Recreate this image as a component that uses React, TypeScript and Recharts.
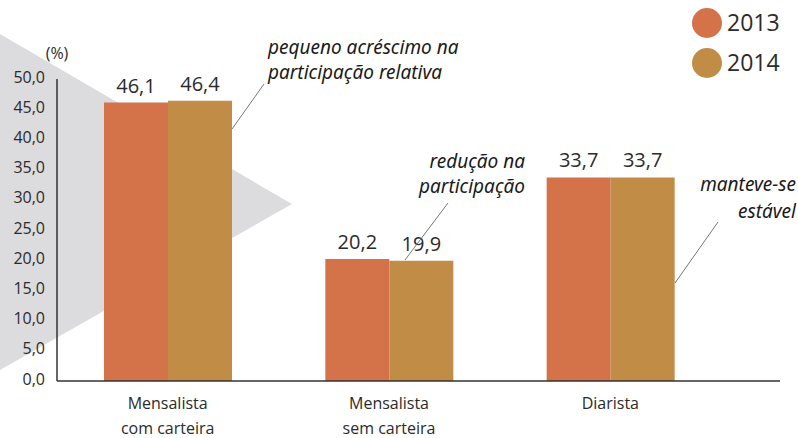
import React from 'react'
import {
  BarChart,
  Bar,
  XAxis,
  YAxis,
  LabelList,
} from 'recharts'

const categories = ['Mensalista\ncom carteira', 'Mensalista\nsem carteira', 'Diarista']
const values2013 = [46.1, 20.2, 33.7]
const values2014 = [46.4, 19.9, 33.7]
const yTicks = [0, 5, 10, 15, 20, 25, 30, 35, 40, 45, 50]
const seriesNames = ['2013', '2014']

const COLOR_2013 = '#d4724a'
const COLOR_2014 = '#c18c46'
const TEXT = '#2b2b2b'
const FONT = '"Open Sans", "Noto Sans", sans-serif'
const HAND = '"Noto Sans", sans-serif'

const data = categories.map((name, i) => ({
  name,
  y2013: values2013[i],
  y2014: values2014[i],
}))

const fmt = (v: number) => v.toFixed(1).replace('.', ',')

const CategoryTick = (props: any) => {
  const { x, y, payload } = props
  const lines = String(payload.value).split('\n')
  return (
    <text x={x} y={y} textAnchor="middle" fill={TEXT} fontSize={16} fontFamily={FONT}>
      {lines.map((l, i) => (
        <tspan key={i} x={x} dy={i === 0 ? 20 : 25}>{l}</tspan>
      ))}
    </text>
  )
}

// legend, notes and leader lines drawn over the chart
const Notes = () => (
  <svg width={798} height={438} style={{ position: 'absolute', left: 0, top: 0, pointerEvents: 'none' }}>
    {seriesNames.map((label, i) => (
      <g key={label}>
        <circle cx={707} cy={23 + i * 40} r={15} fill={i === 0 ? COLOR_2013 : COLOR_2014} />
        <text x={727} y={31 + i * 40} fontSize={23} fill={TEXT} fontFamily={FONT}>{label}</text>
      </g>
    ))}
    <g fontFamily={HAND} fontStyle="italic" fontSize={19} fill="#1a1a1a">
      <text x={268} y={54}>pequeno acréscimo na</text>
      <text x={268} y={79}>participação relativa</text>
      <text x={525} y={168} textAnchor="end">redução na</text>
      <text x={525} y={193} textAnchor="end">participação</text>
      <text x={796} y={191} textAnchor="end">manteve-se</text>
      <text x={796} y={218} textAnchor="end">estável</text>
    </g>
    <g stroke="#777" strokeWidth={1}>
      <line x1={232} y1={129} x2={264} y2={84} />
      <line x1={405} y1={260} x2={448} y2={203} />
      <line x1={675} y1={283} x2={718} y2={222} />
    </g>
    <text x={57} y={59} textAnchor="middle" fontSize={16} fill={TEXT} fontFamily={FONT}>(%)</text>
  </svg>
)

export default function App() {
  return (
    <div style={{ position: 'absolute', left: 0, top: 0, width: 798, height: 438, background: '#fff' }}>
      <svg width={798} height={438} style={{ position: 'absolute', left: 0, top: 0 }}>
        <polygon points="0,34 292,204 0,370" fill="#dcdcde" />
      </svg>
      <div style={{ position: 'absolute', left: 0, top: 0 }}>
        <BarChart
          width={798}
          height={438}
          data={data}
          barSize={64}
          barGap={0}
          margin={{ top: 79, right: 18, left: 0, bottom: 27 }}
        >
          <XAxis
            dataKey="name"
            height={30}
            tick={<CategoryTick />}
            tickLine={false}
            axisLine={{ stroke: '#333', strokeWidth: 1.5 }}
            padding={{ left: 0, right: 59 }}
            interval={0}
          />
          <YAxis
            width={57}
            domain={[0, 50]}
            ticks={yTicks}
            tickFormatter={fmt}
            tickLine={false}
            tickSize={0}
            tickMargin={12}
            axisLine={{ stroke: '#333', strokeWidth: 1.5 }}
            tick={{ fill: TEXT, fontSize: 16, fontFamily: FONT, dy: -2 }}
            interval={0}
          />
          <Bar dataKey="y2013" fill={COLOR_2013} isAnimationActive={false}>
            <LabelList dataKey="y2013" position="top" offset={10} formatter={(v: any) => fmt(Number(v))}
              style={{ fill: TEXT, fontSize: 20, fontFamily: FONT }} />
          </Bar>
          <Bar dataKey="y2014" fill={COLOR_2014} isAnimationActive={false}>
            <LabelList dataKey="y2014" position="top" offset={10} formatter={(v: any) => fmt(Number(v))}
              style={{ fill: TEXT, fontSize: 20, fontFamily: FONT }} />
          </Bar>
        </BarChart>
      </div>
      <Notes />
    </div>
  )
}
